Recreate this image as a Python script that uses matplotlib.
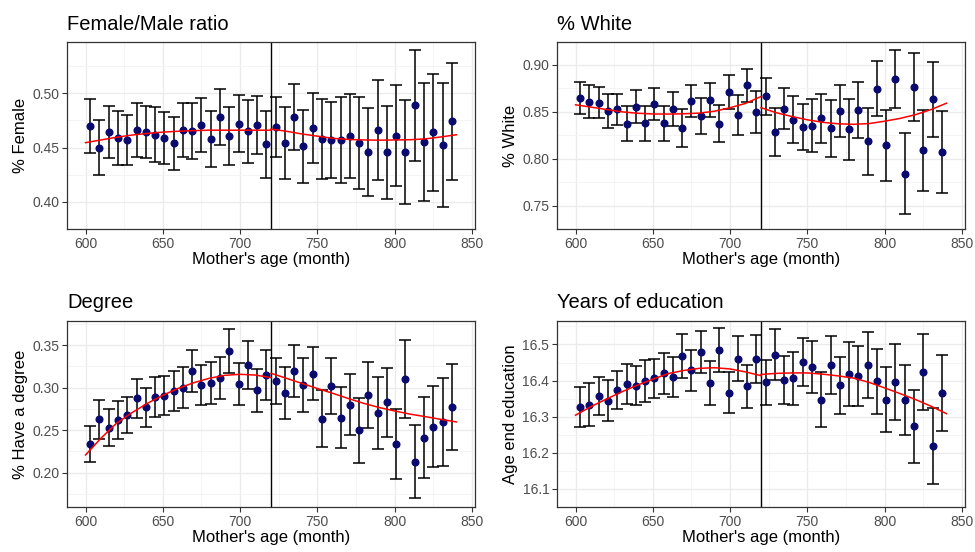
import matplotlib.pyplot as plt
import numpy as np
from matplotlib.ticker import MultipleLocator, FormatStrFormatter

plt.rcParams['font.family'] = ['Liberation Sans', 'DejaVu Sans']

# bins of mother's age (month)
age = np.arange(603, 840, 6)

female = [0.470, 0.450, 0.464, 0.459, 0.457, 0.466, 0.464, 0.462, 0.459, 0.454,
          0.466, 0.465, 0.471, 0.458, 0.478, 0.461, 0.472, 0.465, 0.471, 0.453,
          0.469, 0.454, 0.478, 0.451, 0.468, 0.458, 0.457, 0.457, 0.4605, 0.454,
          0.446, 0.466, 0.4455, 0.461, 0.446, 0.489, 0.455, 0.464, 0.452, 0.474]
female_ci = [0.0246, 0.025, 0.0239, 0.025, 0.0232, 0.0247, 0.024, 0.0249, 0.0239, 0.0245,
             0.0251, 0.0256, 0.0247, 0.026, 0.0256, 0.0268, 0.0261, 0.0288, 0.0266, 0.0307,
             0.028, 0.033, 0.0307, 0.0332, 0.0318, 0.0371, 0.035, 0.0394, 0.0386, 0.0426,
             0.0406, 0.0462, 0.0432, 0.0466, 0.048, 0.0511, 0.0541, 0.054, 0.0572, 0.0541]

white = [0.865, 0.8609, 0.8599, 0.8507, 0.8527, 0.8374, 0.8554, 0.8378, 0.8582, 0.8378,
         0.8531, 0.8327, 0.8616, 0.8456, 0.8626, 0.8374, 0.8711, 0.8463, 0.8782, 0.850,
         0.8667, 0.8282, 0.8534, 0.8418, 0.8337, 0.8354, 0.8432, 0.8323, 0.851, 0.8313,
         0.852, 0.8184, 0.8745, 0.8143, 0.8847, 0.784, 0.8762, 0.8088, 0.8633, 0.8071]
white_ci = [0.0173, 0.0172, 0.0168, 0.018, 0.0168, 0.0187, 0.0175, 0.0187, 0.0173, 0.0184,
            0.0182, 0.0199, 0.0173, 0.0196, 0.018, 0.0201, 0.0182, 0.0214, 0.0179, 0.0224,
            0.0197, 0.0255, 0.0219, 0.025, 0.0243, 0.0281, 0.0262, 0.0303, 0.0281, 0.0328,
            0.0298, 0.0359, 0.0293, 0.0376, 0.0308, 0.0429, 0.0361, 0.0435, 0.0398, 0.0434]

degree = [0.2333, 0.2627, 0.2529, 0.2615, 0.2674, 0.2874, 0.2768, 0.2894, 0.2906, 0.2961,
          0.300, 0.320, 0.3027, 0.3051, 0.3114, 0.3436, 0.3043, 0.3267, 0.2969, 0.3145,
          0.3079, 0.2937, 0.3196, 0.3031, 0.3165, 0.2635, 0.3016, 0.2647, 0.280, 0.2497,
          0.2918, 0.2702, 0.2827, 0.2333, 0.3106, 0.2128, 0.2411, 0.2537, 0.2592, 0.2772]
degree_ci = [0.0212, 0.0228, 0.0216, 0.0224, 0.0212, 0.0232, 0.0226, 0.0236, 0.0228, 0.0232,
             0.0239, 0.0247, 0.0236, 0.0247, 0.0247, 0.0259, 0.0253, 0.0285, 0.0255, 0.0294,
             0.0267, 0.0312, 0.0302, 0.0316, 0.031, 0.0336, 0.033, 0.0357, 0.0361, 0.0385,
             0.0389, 0.042, 0.0408, 0.0412, 0.0461, 0.043, 0.0481, 0.0477, 0.052, 0.0501]

educ = [16.3263, 16.333, 16.3576, 16.344, 16.3746, 16.3907, 16.3864, 16.3983, 16.4059, 16.4203,
        16.4102, 16.4678, 16.428, 16.4797, 16.3924, 16.4847, 16.367, 16.4602, 16.3847, 16.4593,
        16.3949, 16.472, 16.4025, 16.4059, 16.4517, 16.4373, 16.3466, 16.4424, 16.3873, 16.4186,
        16.4127, 16.4441, 16.3975, 16.3475, 16.3949, 16.3458, 16.2737, 16.4246, 16.2195, 16.3661]
educ_ci = [0.0547, 0.0593, 0.0525, 0.0564, 0.053, 0.0559, 0.0538, 0.0585, 0.0538, 0.0564,
           0.0559, 0.0602, 0.0576, 0.058, 0.061, 0.061, 0.0576, 0.0623, 0.0593, 0.067,
           0.0627, 0.0708, 0.0665, 0.0746, 0.0653, 0.072, 0.0763, 0.0801, 0.0792, 0.0886,
           0.0843, 0.0915, 0.0911, 0.0903, 0.1051, 0.097, 0.1013, 0.1047, 0.1055, 0.1047]

# fitted curves, one each side of the 720 month cutoff
fit_left_x = [600, 610, 620, 630, 640, 650, 660, 670, 680, 690, 700, 710, 720]
fit_right_x = [720, 730, 740, 750, 760, 770, 780, 790, 800, 810, 820, 830, 840]

female_fit_l = [0.4545, 0.457, 0.4595, 0.4615, 0.463, 0.4642, 0.465, 0.4656, 0.466, 0.466,
                0.466, 0.466, 0.466]
female_fit_r = [0.467, 0.465, 0.4625, 0.4605, 0.4585, 0.4575, 0.457, 0.4568, 0.457, 0.4572,
                0.458, 0.4598, 0.4618]

white_fit_l = [0.8575, 0.855, 0.8525, 0.850, 0.8485, 0.8477, 0.8476, 0.8479, 0.8486, 0.8507,
               0.8544, 0.859, 0.8663]
white_fit_r = [0.8544, 0.849, 0.845, 0.8415, 0.8388, 0.8372, 0.8367, 0.8375, 0.840, 0.843,
               0.847, 0.8524, 0.8592]

degree_fit_l = [0.2207, 0.2405, 0.258, 0.2705, 0.2815, 0.291, 0.2992, 0.3058, 0.311, 0.3145,
                0.3157, 0.3148, 0.3118]
degree_fit_r = [0.3169, 0.311, 0.305, 0.299, 0.2933, 0.2872, 0.2815, 0.2766, 0.2725, 0.2688,
                0.2658, 0.2626, 0.2596]

educ_fit_l = [16.3042, 16.328, 16.349, 16.369, 16.3873, 16.404, 16.4195, 16.428, 16.4339,
              16.4356, 16.4322, 16.424, 16.4136]
educ_fit_r = [16.417, 16.42, 16.4212, 16.4212, 16.4178, 16.413, 16.4068, 16.395, 16.3797,
              16.364, 16.3475, 16.329, 16.3085]

panels = [
    ("Female/Male ratio", "% Female", female, female_ci, female_fit_l, female_fit_r,
     (0.3878, 0.5472), [0.40, 0.45, 0.50], "%.2f"),
    ("% White", "% White", white, white_ci, white_fit_l, white_fit_r,
     (0.7337, 0.9245), [0.75, 0.80, 0.85, 0.90], "%.2f"),
    ("Degree", "% Have a degree", degree, degree_ci, degree_fit_l, degree_fit_r,
     (0.1594, 0.3785), [0.20, 0.25, 0.30, 0.35], "%.2f"),
    ("Years of education", "Age end education", educ, educ_ci, educ_fit_l, educ_fit_r,
     (16.0924, 16.565), [16.1, 16.2, 16.3, 16.4, 16.5], "%.1f"),
]

W, H = 975, 552
fig = plt.figure(figsize=(W / 100, H / 100), dpi=100)
fig.patch.set_facecolor("white")

boxes = [(67, 42, 475, 229), (557, 42, 965, 229),
         (67, 321, 475, 507), (557, 321, 965, 507)]

for (title, ylab, y, ci, fl, fr, ylim, yt, fmt), (x0, y0, x1, y1) in zip(panels, boxes):
    ax = fig.add_axes([x0 / W, 1 - y1 / H, (x1 - x0) / W, (y1 - y0) / H])
    ax.set_xlim(588, 852)
    ax.set_ylim(*ylim)
    ax.set_xticks([600, 650, 700, 750, 800, 850])
    ax.xaxis.set_minor_locator(MultipleLocator(25))
    ax.set_yticks(yt)
    step = yt[1] - yt[0]
    ax.set_yticks(np.arange(yt[0] - step / 2, ylim[1], step), minor=True)
    ax.yaxis.set_major_formatter(FormatStrFormatter(fmt))
    ax.grid(which="major", color="#ebebeb", linewidth=1.0)
    ax.grid(which="minor", color="#f3f3f3", linewidth=0.6)
    ax.set_axisbelow(True)
    ax.tick_params(which="major", length=3.5, width=0.8, color="#333333",
                   labelsize=10, labelcolor="#4d4d4d", pad=2)
    ax.tick_params(which="minor", length=0)
    for s in ax.spines.values():
        s.set_color("#333333")
        s.set_linewidth(0.9)

    ax.axvline(720, color="black", linewidth=1.0, zorder=2)
    ax.errorbar(age, y, yerr=ci, fmt="none", ecolor="black", elinewidth=1.1,
                capsize=4.3, capthick=1.1, zorder=3)
    ax.plot(age, y, "o", color="#0a0a6e", markersize=4.8, zorder=4)
    ax.plot(fit_left_x, fl, color="red", linewidth=1.1, zorder=5)
    ax.plot(fit_right_x, fr, color="red", linewidth=1.1, zorder=5)

    ax.set_title(title, loc="left", fontsize=14.5, pad=9)
    ax.set_xlabel("Mother's age (month)", fontsize=12, labelpad=1)
    ax.set_ylabel(ylab, fontsize=12, labelpad=3)

fig.savefig("out.png", dpi=100)
